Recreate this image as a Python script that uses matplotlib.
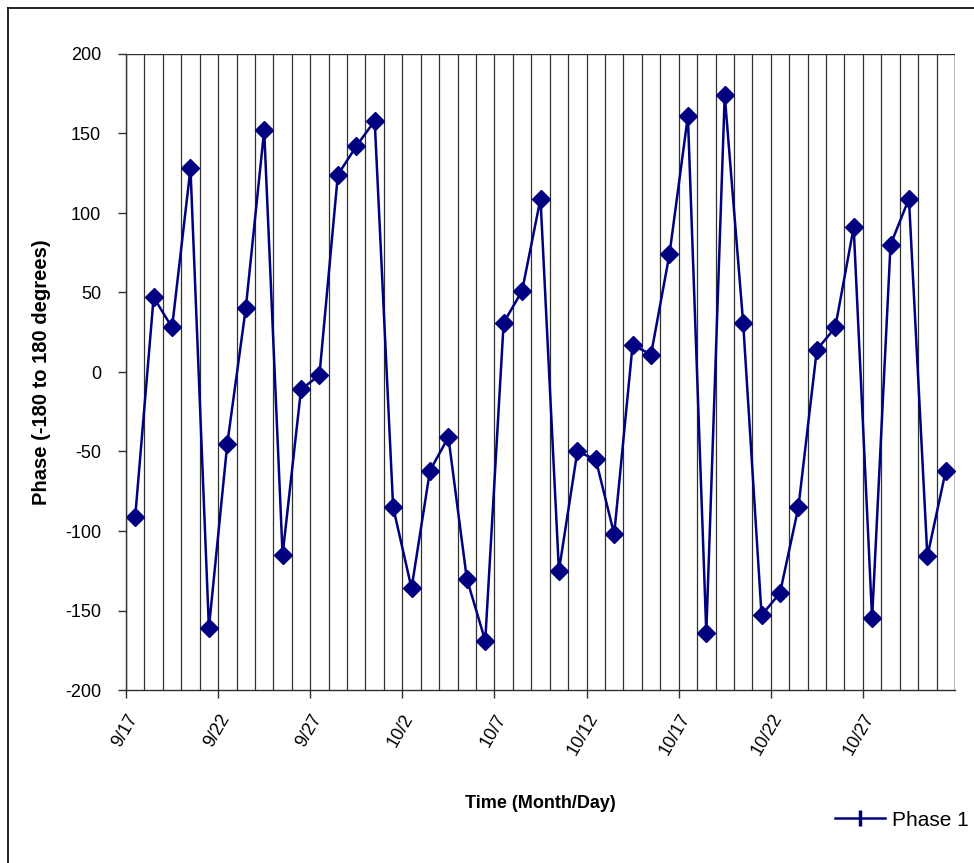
import matplotlib
matplotlib.use("Agg")
import matplotlib.pyplot as plt
import matplotlib.dates as mdates
from matplotlib.lines import Line2D
import numpy as np
import pandas as pd

plt.rcParams['font.family'] = ['Liberation Sans', 'DejaVu Sans']
plt.rcParams['axes.unicode_minus'] = False

# daily phase readings, taken around midday
start = "2003-09-17 12:00"
phase = [-91, 47, 28, 128, -161, -45, 40, 152, -115, -11,
         -2, 124, 142, 158, -85, -136, -62, -41, -130, -169,
         31, 51, 109, -125, -50, -55, -102, 17, 11, 74,
         161, -164, 174, 31, -153, -139, -85, 14, 28, 91,
         -155, 80, 109, -116, -62]
times = pd.date_range(start, periods=len(phase), freq="D")

x_min = pd.Timestamp("2003-09-17")
x_max = pd.Timestamp("2003-11-01")

W, H = 974, 863
fig = plt.figure(figsize=(W / 100, H / 100), dpi=100)
ax = fig.add_axes([126 / W, 1 - 690 / H, (955 - 126) / W, (690 - 54) / H])

ax.plot(times, phase, color="#000080", lw=1.8, marker="D", markersize=9,
        markeredgecolor="#000080", markerfacecolor="#000080")

ax.set_xlim(x_min, x_max)
ax.set_ylim(-200, 200)
ax.set_yticks(np.arange(-200, 201, 50))

ax.xaxis.set_major_locator(mdates.DayLocator(bymonthday=[2, 7, 12, 17, 22, 27]))
ax.xaxis.set_minor_locator(mdates.DayLocator())
ax.xaxis.set_major_formatter(mdates.DateFormatter("%-m/%-d"))

# one vertical line per day
ax.grid(True, axis="x", which="both", color="#303030", lw=0.9)
ax.set_axisbelow(True)

for s in ax.spines.values():
    s.set_linewidth(1.0)
    s.set_color("#303030")
ax.spines["top"].set_visible(False)
ax.spines["right"].set_visible(False)
ax.axhline(200, color="#303030", lw=1.0)
ax.axvline(x_max, color="black", lw=1.0)

ax.tick_params(axis="both", which="major", direction="out", length=6,
               width=1, labelsize=13, color="#303030")
ax.tick_params(axis="x", which="minor", length=0)
ax.tick_params(axis="x", pad=9)
ax.tick_params(axis="y", pad=12)
for lbl in ax.get_xticklabels():
    lbl.set_rotation(60)
    lbl.set_ha("right")
    lbl.set_va("top")
    lbl.set_rotation_mode("anchor")

ax.set_xlabel("Time (Month/Day)", fontsize=13, fontweight="bold", labelpad=26)
ax.set_ylabel("Phase (-180 to 180 degrees)", fontsize=14.5, fontweight="bold", labelpad=10)

handle = Line2D([], [], color="#000080", lw=1.8, marker="|", markersize=12,
                markeredgewidth=2.5)
fig.legend([handle], ["Phase 1"], loc="center left",
           bbox_to_anchor=(835 / W, 1 - 820 / H), frameon=False,
           fontsize=15, handlelength=2.4, handletextpad=0.35,
           borderaxespad=0, borderpad=0)

# outer chart border
fig.add_artist(Line2D([8 / W, 8 / W], [0, 1 - 8 / H], color="black", lw=1.2,
                      transform=fig.transFigure))
fig.add_artist(Line2D([8 / W, 1], [1 - 8 / H, 1 - 8 / H], color="black", lw=1.2,
                      transform=fig.transFigure))

fig.savefig("out.png", dpi=100)
